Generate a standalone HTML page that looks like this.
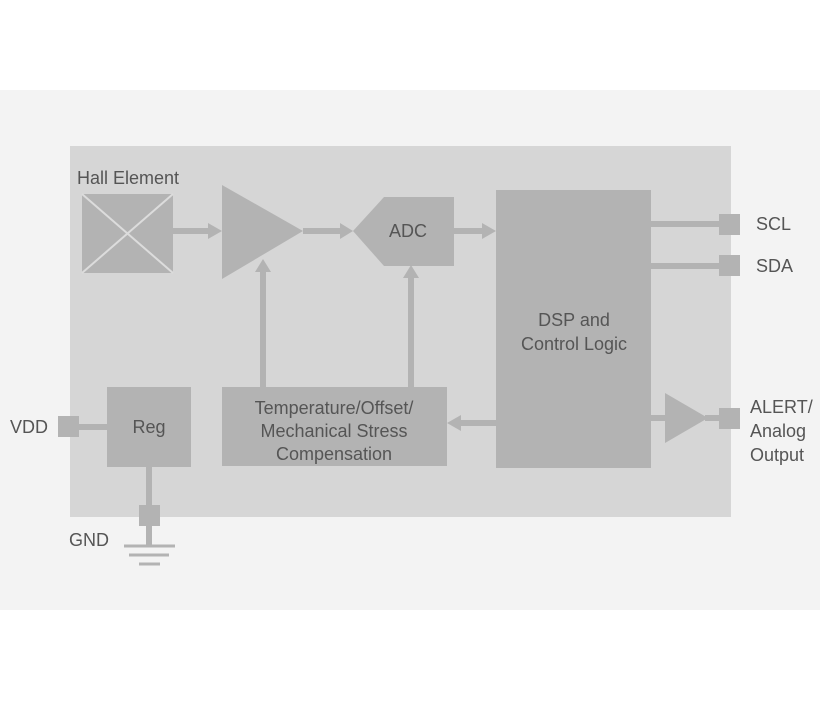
<!DOCTYPE html>
<html><head><style>
body{margin:0;width:820px;height:700px;background:#fff;overflow:hidden}
svg text{font-family:"Liberation Sans",sans-serif;font-size:18px;fill:#555}
</style></head><body>
<svg width="820" height="700" xmlns="http://www.w3.org/2000/svg">
<rect x="0" y="90" width="820" height="520" fill="#f3f3f3"/>
<rect x="70" y="146" width="661" height="371" fill="#d6d6d6"/>
<g fill="#b3b3b3" stroke="none">
<rect x="82" y="194" width="91" height="79"/>
<polygon points="222,185 303,231 222,279"/>
<polygon points="353,231 384,197 454,197 454,266 384,266"/>
<rect x="496" y="190" width="155" height="278"/>
<rect x="222" y="387" width="225" height="79"/>
<rect x="107" y="387" width="84" height="80"/>
<rect x="719" y="214" width="21" height="21"/>
<rect x="719" y="255" width="21" height="21"/>
<rect x="719" y="408" width="21" height="21"/>
<polygon points="665,393 708,418 665,443"/>
<rect x="58" y="416" width="21" height="21"/>
<rect x="139" y="505" width="21" height="21"/>
</g>
<g stroke="#dcdcdc" stroke-width="2"><line x1="82" y1="194" x2="173" y2="273"/><line x1="173" y1="194" x2="82" y2="273"/></g>
<g stroke="#b3b3b3" stroke-width="6">
<line x1="173" y1="231" x2="210" y2="231"/>
<line x1="303" y1="231" x2="342" y2="231"/>
<line x1="454" y1="231" x2="484" y2="231"/>
<line x1="263" y1="387" x2="263" y2="270"/>
<line x1="411" y1="387" x2="411" y2="276"/>
<line x1="496" y1="423" x2="460" y2="423"/>
<line x1="651" y1="224" x2="719" y2="224"/>
<line x1="651" y1="266" x2="719" y2="266"/>
<line x1="651" y1="418" x2="665" y2="418"/>
<line x1="705" y1="418" x2="719" y2="418"/>
<line x1="79" y1="427" x2="107" y2="427"/>
<line x1="149" y1="467" x2="149" y2="546"/>
</g>
<g fill="#b3b3b3">
<polygon points="208,223 222,231 208,239"/>
<polygon points="340,223 353,231 340,239"/>
<polygon points="482,223 496,231 482,239"/>
<polygon points="255,272 263,259 271,272"/>
<polygon points="403,278 411,265 419,278"/>
<polygon points="461,415 447,423 461,431"/>
</g>
<g stroke="#b3b3b3" stroke-width="3">
<line x1="124" y1="546" x2="175" y2="546"/>
<line x1="129" y1="555" x2="169" y2="555"/>
<line x1="139" y1="564" x2="160" y2="564"/>
</g>
<text x="77" y="184">Hall Element</text>
<text x="408" y="237" text-anchor="middle">ADC</text>
<text x="574" y="326" text-anchor="middle">DSP and</text>
<text x="574" y="350" text-anchor="middle">Control Logic</text>
<text x="334" y="414" text-anchor="middle">Temperature/Offset/</text>
<text x="334" y="437" text-anchor="middle">Mechanical Stress</text>
<text x="334" y="460" text-anchor="middle">Compensation</text>
<text x="149" y="433" text-anchor="middle">Reg</text>
<text x="10" y="433">VDD</text>
<text x="69" y="546">GND</text>
<text x="756" y="230">SCL</text>
<text x="756" y="272">SDA</text>
<text x="750" y="413">ALERT/</text>
<text x="750" y="437">Analog</text>
<text x="750" y="461">Output</text>
</svg>
</body></html>
